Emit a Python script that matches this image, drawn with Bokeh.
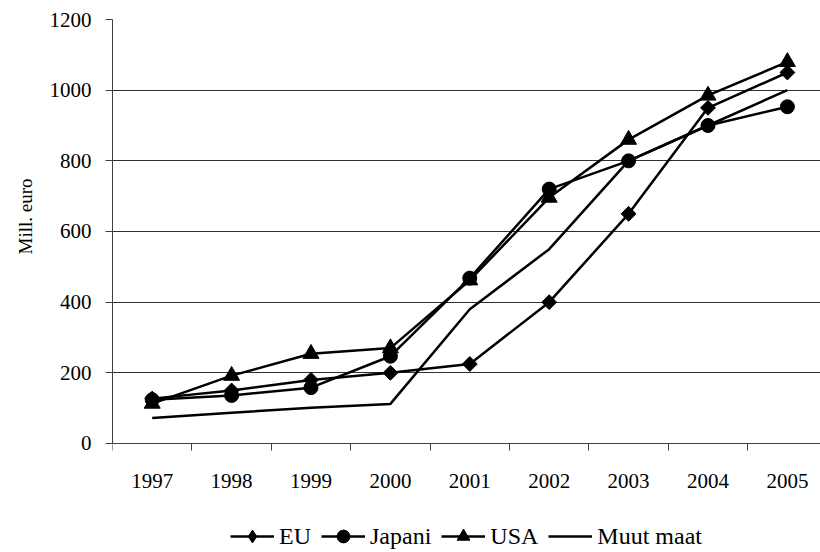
import numpy as np
from bokeh.plotting import figure
from bokeh.models import Range1d, FixedTicker, Legend, LegendItem, Title
from bokeh.embed import file_html
from bokeh.resources import INLINE

years = ["1997", "1998", "1999", "2000", "2001", "2002", "2003", "2004", "2005"]
eu = [127, 150, 180, 200, 225, 400, 650, 950, 1050]
japani = [124, 136, 158, 247, 468, 720, 800, 900, 953]
usa = [113, 192, 254, 270, 462, 696, 860, 985, 1080]
muut = [72, 87, 101, 112, 380, 550, 800, 900, 1000]
y_ticks = [0, 200, 400, 600, 800, 1000, 1200]

FONT = "Liberation Serif"
x = [i + 0.5 for i in range(len(years))]

p = figure(width=820, height=552, output_backend="svg", toolbar_location=None,
           x_range=Range1d(0, 8.917), y_range=Range1d(-308.5, 1200),
           min_border_left=112, min_border_top=19, min_border_right=0,
           min_border_bottom=0)
p.outline_line_color = None
p.background_fill_color = "white"
p.border_fill_color = "white"

# y axis
p.yaxis.ticker = FixedTicker(ticks=y_ticks)
p.yaxis.bounds = (0, 1200)
p.yaxis.major_tick_out = 7
p.yaxis.major_tick_in = 0
p.yaxis.minor_tick_line_color = None
p.yaxis.axis_line_color = "#404040"
p.yaxis.major_tick_line_color = "#404040"
p.yaxis.major_label_text_font = FONT
p.yaxis.major_label_text_font_size = "21px"
p.yaxis.major_label_text_color = "black"
p.yaxis.major_label_standoff = 14

# y axis title, placed beside the 0..1200 span
p.add_layout(Title(text="Mill. euro", align="right", offset=159, standoff=21,
                   text_font=FONT, text_font_size="19px",
                   text_font_style="normal", text_color="black"), "left")

# x axis, drawn at y = 0 inside the frame
p.xaxis.fixed_location = 0
p.xaxis.ticker = FixedTicker(ticks=x, minor_ticks=list(range(len(years) + 1)))
p.xaxis.major_label_overrides = {xx: yy for xx, yy in zip(x, years)}
p.xaxis.major_tick_line_color = None
p.xaxis.major_tick_out = 0
p.xaxis.major_tick_in = 0
p.xaxis.minor_tick_out = 7
p.xaxis.minor_tick_in = 0
p.xaxis.minor_tick_line_color = "#404040"
p.xaxis.axis_line_color = "#404040"
p.xaxis.major_label_text_font = FONT
p.xaxis.major_label_text_font_size = "21px"
p.xaxis.major_label_text_color = "black"
p.xaxis.major_label_standoff = 24

p.xgrid.grid_line_color = None
p.ygrid.ticker = FixedTicker(ticks=y_ticks)
p.ygrid.grid_line_color = "#303030"
p.ygrid.grid_line_width = 1

LW = 2.5
items = []
series = [("EU", eu, "square", 10.5, np.pi / 4, "diamond"),
          ("Japani", japani, "circle", 14, 0, "circle"),
          ("USA", usa, "triangle", 16, 0, "triangle")]
for name, vals, marker, size, ang, leg_marker in series:
    l = p.line(x, vals, line_color="black", line_width=LW)
    s = p.scatter(x, vals, marker=marker, size=size, angle=ang,
                  fill_color="black", line_color="black")
    if leg_marker == marker:
        items.append(LegendItem(label=name, renderers=[l, s]))
    else:
        # legend key drawn as a diamond; sits inside the first data marker
        key = p.scatter(x[:1], vals[:1], marker=leg_marker, size=14,
                        fill_color="black", line_color="black")
        items.append(LegendItem(label=name, renderers=[l, key]))
lm = p.line(x, muut, line_color="black", line_width=LW)
items.append(LegendItem(label="Muut maat", renderers=[lm]))

legend = Legend(items=items, orientation="horizontal", location="bottom_center",
                glyph_width=44, glyph_height=32, label_standoff=5, spacing=10,
                padding=0, margin=0, border_line_color=None,
                background_fill_alpha=0,
                label_text_font=FONT, label_text_font_size="24px",
                label_text_color="black")
p.add_layout(legend)

open("out.html", "w").write(file_html(p, INLINE))
